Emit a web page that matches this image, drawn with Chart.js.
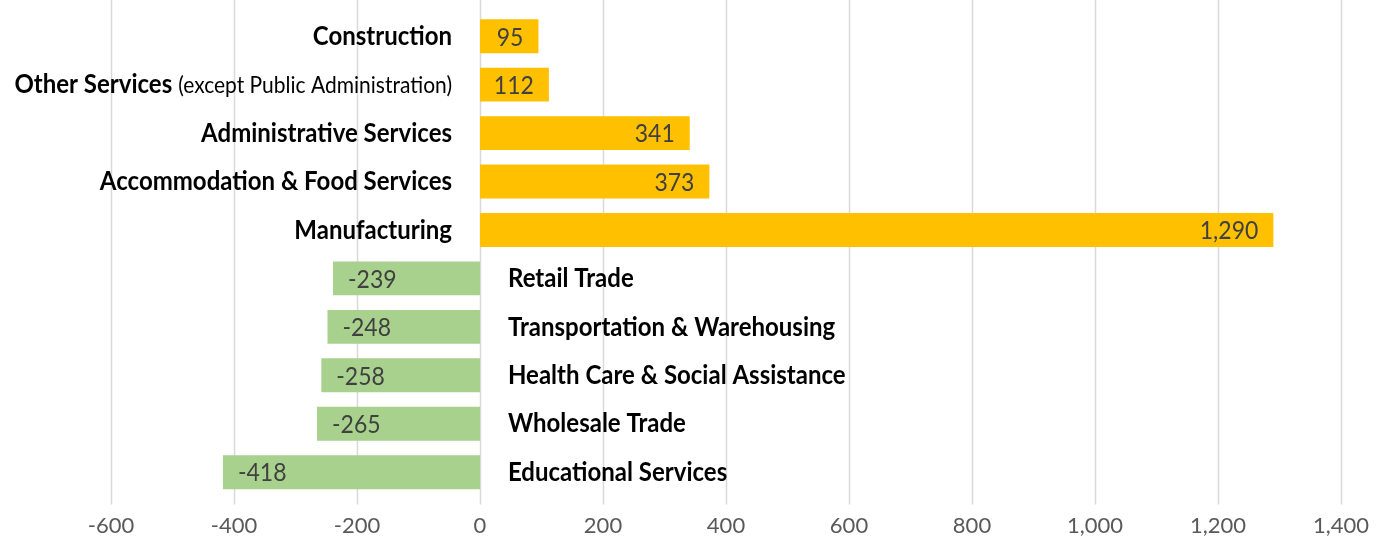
<!DOCTYPE html>
<html>
<head>
<meta charset="utf-8">
<script src="https://cdn.jsdelivr.net/npm/chart.js@4"></script>
<style>
  html, body { margin: 0; padding: 0; background: #ffffff; }
  #wrap { width: 1388px; height: 548px; }
</style>
</head>
<body>
<div id="wrap"><canvas id="myChart"></canvas></div>
<script>
const industries = [
    'Construction',
    'Other Services',
    'Administrative Services',
    'Accommodation & Food Services',
    'Manufacturing',
    'Retail Trade',
    'Transportation & Warehousing',
    'Health Care & Social Assistance',
    'Wholesale Trade',
    'Educational Services'
];
const subLabels = ['', '(except Public Administration)', '', '', '', '', '', '', '', ''];
const changes = [95, 112, 341, 373, 1290, -239, -248, -258, -265, -418];
const xTicks = [-600, -400, -200, 0, 200, 400, 600, 800, 1000, 1200, 1400];

const yellow = '#FFC000';
const green = '#A9D18E';

// text in the picture is a bit taller than wide, so stretch it a little
function tallText(c, txt, x, y, align) {
    c.save();
    c.translate(x, y);
    c.scale(1, 1.12);
    c.textAlign = align;
    c.fillText(txt, 0, 0);
    c.restore();
}

// gridlines run from the very top down past the bars
const gridLines = {
    id: 'gridLines',
    beforeDatasetsDraw(chart) {
        const c = chart.ctx;
        const xs = chart.scales.x;
        c.save();
        c.strokeStyle = '#d9d9d9';
        c.lineWidth = 1.5;
        xTicks.forEach(v => {
            const px = Math.round(xs.getPixelForValue(v)) + 0.5;
            c.beginPath();
            c.moveTo(px, 0);
            c.lineTo(px, chart.chartArea.bottom + 8);
            c.stroke();
        });
        c.restore();
    }
};

// labels next to the zero line + values inside the bar ends
const barLabels = {
    id: 'barLabels',
    afterDatasetsDraw(chart) {
        const c = chart.ctx;
        const meta = chart.getDatasetMeta(0);
        c.save();
        c.textBaseline = 'middle';
        meta.data.forEach((bar, i) => {
            const v = changes[i];
            const zero = bar.base;
            const y = bar.y;

            // category name
            c.fillStyle = '#000000';
            if (v >= 0) {
                const right = zero - 28;
                if (subLabels[i]) {
                    c.font = '21px Lato';
                    const sw = c.measureText(subLabels[i]).width;
                    tallText(c, subLabels[i], right, y + 1, 'right');
                    c.font = 'bold 24px Lato';
                    tallText(c, industries[i], right - sw - 6, y, 'right');
                } else {
                    c.font = 'bold 24px Lato';
                    tallText(c, industries[i], right, y, 'right');
                }
            } else {
                c.font = 'bold 24px Lato';
                tallText(c, industries[i], zero + 28, y, 'left');
            }

            // value
            c.font = '23px Lato';
            c.fillStyle = '#404040';
            const txt = v.toLocaleString('en-US');
            if (v >= 0) {
                tallText(c, txt, bar.x - 15, y + 1, 'right');
            } else {
                tallText(c, txt, bar.x + 15, y + 1, 'left');
            }
        });
        c.restore();
    }
};

const ctx = document.getElementById('myChart');

new Chart(ctx, {
    type: 'bar',
    data: {
        labels: industries,
        datasets: [{
            data: changes,
            backgroundColor: changes.map(v => v >= 0 ? yellow : green),
            borderWidth: 0,
            barPercentage: 0.7,
            categoryPercentage: 1
        }]
    },
    options: {
        indexAxis: 'y',
        responsive: true,
        maintainAspectRatio: false,
        animation: false,
        layout: {
            padding: { left: 111, right: 47, top: 12, bottom: 9.6 }
        },
        plugins: {
            legend: { display: false },
            tooltip: { enabled: false }
        },
        scales: {
            x: {
                min: xTicks[0],
                max: xTicks[xTicks.length - 1],
                afterBuildTicks: axis => {
                    axis.ticks = xTicks.map(v => ({ value: v }));
                },
                afterFit: axis => {
                    axis.height = 42;
                },
                grid: {
                    display: false,
                    drawTicks: false
                },
                border: { display: false },
                ticks: {
                    padding: 16,
                    color: '#595959',
                    font: { family: 'Lato', size: 22 },
                    callback: v => v.toLocaleString('en-US')
                }
            },
            y: {
                display: false
            }
        }
    },
    plugins: [gridLines, barLabels]
});
</script>
</body>
</html>
